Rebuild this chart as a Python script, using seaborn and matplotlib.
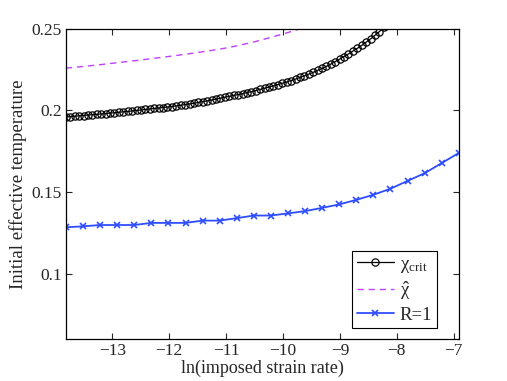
import matplotlib
matplotlib.use("Agg")
import matplotlib.pyplot as plt
import seaborn as sns

# chi_crit (open circles), dense grid of ln(strain rate)
crit_x = [-13.816, -13.738, -13.660, -13.583, -13.505, -13.427, -13.350, -13.272,
          -13.195, -13.117, -13.039, -12.962, -12.884, -12.806, -12.729, -12.651,
          -12.574, -12.496, -12.418, -12.341, -12.263, -12.185, -12.108, -12.030,
          -11.953, -11.875, -11.797, -11.720, -11.642, -11.564, -11.487, -11.409,
          -11.332, -11.254, -11.176, -11.099, -11.021, -10.943, -10.866, -10.788,
          -10.711, -10.633, -10.555, -10.478, -10.400, -10.322, -10.245, -10.167,
          -10.090, -10.012, -9.934, -9.857, -9.779, -9.701, -9.624, -9.546,
          -9.469, -9.391, -9.313, -9.236, -9.158, -9.080, -9.003, -8.925,
          -8.848, -8.770, -8.692, -8.615, -8.537, -8.459, -8.382, -8.304,
          -8.227, -8.149]
crit_y = [0.1959, 0.1961, 0.1964, 0.1966, 0.1968, 0.1971, 0.1973, 0.1975,
          0.1978, 0.1980, 0.1983, 0.1985, 0.1988, 0.1991, 0.1993, 0.1996,
          0.1999, 0.2002, 0.2005, 0.2008, 0.2011, 0.2014, 0.2017, 0.2020,
          0.2023, 0.2027, 0.2031, 0.2035, 0.2039, 0.2043, 0.2048, 0.2053,
          0.2058, 0.2063, 0.2068, 0.2074, 0.2080, 0.2085, 0.2091, 0.2096,
          0.2102, 0.2108, 0.2114, 0.2121, 0.2128, 0.2135, 0.2142, 0.2150,
          0.2157, 0.2165, 0.2173, 0.2182, 0.2191, 0.2201, 0.2211, 0.2221,
          0.2232, 0.2244, 0.2256, 0.2269, 0.2283, 0.2298, 0.2313, 0.2329,
          0.2345, 0.2362, 0.2379, 0.2397, 0.2417, 0.2437, 0.2459, 0.2482,
          0.2507, 0.2534]

# coarse grid used for chi-hat and R=1
coarse_x = [-13.816, -13.515, -13.215, -12.915, -12.614, -12.314, -12.014, -11.713,
            -11.413, -11.113, -10.812, -10.512, -10.212, -9.912, -9.611, -9.311,
            -9.011, -8.710, -8.410, -8.110, -7.809, -7.509, -7.209, -6.908]
hat_y = [0.2258, 0.2268, 0.2279, 0.2291, 0.2303, 0.2316, 0.2329, 0.2343,
         0.2358, 0.2374, 0.2394, 0.2418, 0.2446, 0.2476, 0.2508, 0.2542]
r1_y = [0.1284, 0.1290, 0.1298, 0.1298, 0.1298, 0.1311, 0.1311, 0.1311,
        0.1325, 0.1325, 0.1340, 0.1356, 0.1356, 0.1369, 0.1383, 0.1403,
        0.1424, 0.1452, 0.1483, 0.1520, 0.1568, 0.1615, 0.1677, 0.1739]

xticks = [-13, -12, -11, -10, -9, -8, -7]
yticks = [0.1, 0.15, 0.2, 0.25]
ytick_labels = ["0.1", "0.15", "0.2", "0.25"]

sns.set_style("ticks")
plt.rcParams["font.family"] = ["Liberation Serif", "DejaVu Serif"]
plt.rcParams["mathtext.fontset"] = "custom"
plt.rcParams["mathtext.rm"] = "Liberation Serif"
plt.rcParams["mathtext.it"] = "Liberation Serif"
plt.rcParams["mathtext.bf"] = "Liberation Serif:bold"
plt.rcParams["axes.unicode_minus"] = True

fig = plt.figure(figsize=(5.07, 3.81), dpi=100)
ax = fig.add_axes([0.13, 0.11, 0.775, 0.815])

sns.lineplot(x=crit_x, y=crit_y, ax=ax, color="black", lw=0.9, marker="o",
             markersize=5.2, markerfacecolor="none", markeredgecolor="black",
             markeredgewidth=0.9, label=r"$\chi_{\rm crit}$", sort=False)
sns.lineplot(x=coarse_x[:len(hat_y)], y=hat_y, ax=ax, color="#c040ff", lw=1.0,
             label=r"$\hat{\chi}$", sort=False)
ax.lines[-1].set_linestyle((0, (4.5, 3.5)))
sns.lineplot(x=coarse_x, y=r1_y, ax=ax, color="#2e4dff", lw=1.3, marker="x",
             markersize=4.5, markeredgewidth=1.2, markeredgecolor="#2e4dff",
             label="R=1", sort=False)

ax.set_xlim(-13.8155, -6.9078)
ax.set_ylim(0.06, 0.25)
ax.set_xticks(xticks)
ax.set_yticks(yticks)
ax.set_yticklabels(ytick_labels)
ax.tick_params(direction="in", top=True, right=True, length=4, width=0.8,
               labelsize=12.5, pad=3)
for s in ax.spines.values():
    s.set_linewidth(0.9)
    s.set_color("black")
ax.set_xlabel("ln(imposed strain rate)", fontsize=13, labelpad=0)
ax.set_ylabel("Initial effective temperature", fontsize=13.5, labelpad=3)

leg = ax.legend(loc="lower right", bbox_to_anchor=(0.944, 0.035),
                borderaxespad=0, fontsize=13.5, fancybox=False, framealpha=1,
                edgecolor="black", handlelength=2.0, handletextpad=0.3,
                labelspacing=0.25, borderpad=0.25)
leg.get_frame().set_linewidth(0.8)

fig.savefig("out.png", dpi=100)
